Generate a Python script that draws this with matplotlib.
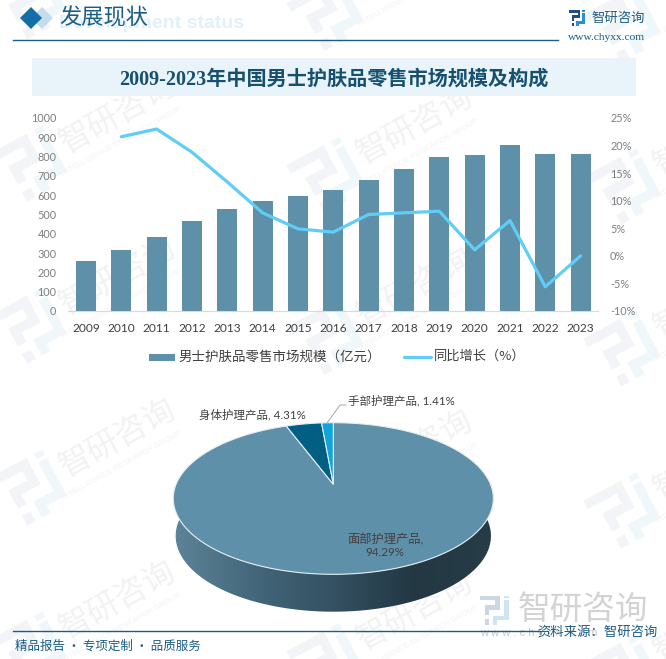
import numpy as np
import matplotlib
matplotlib.use('Agg')
import matplotlib.pyplot as plt
from matplotlib.colors import LinearSegmentedColormap
from matplotlib.patches import Polygon, Rectangle
from matplotlib.transforms import Affine2D

years = ['2009', '2010', '2011', '2012', '2013', '2014', '2015', '2016',
         '2017', '2018', '2019', '2020', '2021', '2022', '2023']
market = [257, 314, 386, 464, 526, 572, 598, 629, 678, 734, 797, 807, 859, 812, 812]
growth = [np.nan, 21.6, 23.0, 18.8, 13.4, 7.8, 4.9, 4.3, 7.5, 7.8, 8.1, 1.1, 6.4, -5.6, 0.0]
left_ticks = [0, 100, 200, 300, 400, 500, 600, 700, 800, 900, 1000]
right_ticks = [-10, -5, 0, 5, 10, 15, 20, 25]

pie_names = ['面部护理产品', '身体护理产品', '手部护理产品']
pie_values = [94.29, 4.31, 1.41]
pie_colors = ['#5e90a9', '#005f83', '#0ea5dc']

W, H = 666, 659
DARK = '#1b5d85'
CJK = ['Noto Sans CJK SC', 'DejaVu Sans']
plt.rcParams['font.family'] = CJK

fig = plt.figure(figsize=(W / 100, H / 100), dpi=100, facecolor='white')


def full_axes(z):
    a = fig.add_axes([0, 0, 1, 1], zorder=z)
    a.set_xlim(0, W)
    a.set_ylim(H, 0)
    a.axis('off')
    return a


bg = full_axes(0)
top = full_axes(2)


# company logo, two tone blocks on a 10x10 grid centred on x, y
def logo(a, x, y, s, col1, col2, rot=0, z=1):
    tr = Affine2D().translate(-5, -5).scale(s).rotate_deg(rot).translate(x, y) + a.transData
    blocks = [(0, 0, 7, 1.6), (5.4, 0, 1.6, 5), (1.8, 3.4, 3.6, 1.6), (1.8, 3.4, 1.6, 3.4), (1.8, 8.2, 1.6, 1.8)]
    blocks2 = [(8.4, 1.6, 1.6, 7), (4.6, 7, 3.8, 1.6), (4.6, 7, 1.6, 3), (8.4, 0, 1.6, 1)]
    for b in blocks:
        a.add_patch(Rectangle(b[:2], b[2], b[3], fc=col1, ec='none', transform=tr, zorder=z))
    for b in blocks2:
        a.add_patch(Rectangle(b[:2], b[2], b[3], fc=col2, ec='none', transform=tr, zorder=z))


# watermark repeats on a slanted grid
for j in range(0, 3):
    for k in range(-3, 2):
        lx = 30 + 297 * j
        ly = 490 + 11.5 * j + 162 * k
        logo(bg, lx, ly, 6, '#f2f4f8', '#f0f7fb', rot=-28)
        if ly - 24 > -20 and lx + 92 < W + 60:
            bg.text(lx + 92, ly - 24, 'INTELLIGENCE RESEARCH GROUP', fontsize=5.8, color='#f3f3f3',
                    family='Liberation Sans', rotation=29, ha='center', va='center', zorder=1)
        if ly - 52 > 0:
            bg.text(lx + 88, ly - 52, '智研咨询', fontsize=23, color='#f2f2f2', rotation=29,
                    ha='center', va='center', zorder=1)

# header
bg.text(244, 23, 'Development status', fontsize=14, fontweight='bold', color='#e3f0f8', ha='right', va='center',
        family='Liberation Sans', zorder=2)
bg.add_patch(Polygon([(42, 7), (53, 18), (42, 29), (31, 18)], fc='#c5dcec', ec='none', zorder=3))
bg.add_patch(Polygon([(31, 7), (42, 18), (31, 29), (20, 18)], fc='#136ea8', ec='none', zorder=3))
bg.text(59, 18, '发展现状', fontsize=16, color=DARK, va='center', ha='left', zorder=3)
bg.plot([13, 558], [39.5, 39.5], color=DARK, lw=1, zorder=3)
logo(bg, 577, 18, 1.6, '#1f4e86', '#2b8fd0', z=3)
bg.text(592, 18, '智研咨询', fontsize=9.6, color=DARK, va='center', ha='left', zorder=3)
bg.text(607, 37, 'www.chyxx.com', fontsize=8.2, color=DARK, va='center', ha='center', family='Liberation Serif', zorder=3)

# title band
bg.add_patch(Rectangle((32, 58), 604, 38, fc='#e8f3fa', ec='none', zorder=3))
bg.text(334, 80, '2009-2023年中国男士护肤品零售市场规模及构成', fontsize=14.5, fontweight='bold', color='#17506f',
        ha='center', va='center', family=['Liberation Serif', 'Noto Sans CJK SC'], zorder=4)

# combo chart
ax = fig.add_axes([68.3 / W, 1 - 311 / H, 530 / W, 193 / H], zorder=1)
ax.patch.set_alpha(0)
xs = np.arange(len(years))
ax.bar(xs, market, width=0.567, color='#5e90a9', zorder=2)
ax.set_xlim(-0.5, len(years) - 0.5)
ax.set_ylim(0, 1000)
ax.set_yticks(left_ticks)
ax.set_xticks(xs)
ax.set_xticklabels(years, family='Lato', fontsize=8.6, color='#404040')
ax.tick_params(axis='y', length=0, pad=8.5, labelsize=7.8, labelcolor='#7f7f7f', labelfontfamily='Lato')
ax.tick_params(axis='x', length=0, pad=9)
for s in ['top', 'left', 'right']:
    ax.spines[s].set_visible(False)
ax.spines['bottom'].set_color('#d9d9d9')

ax2 = ax.twinx()
ax2.patch.set_alpha(0)
ax2.plot(xs, growth, color='#5fcdf5', lw=2.3, solid_joinstyle='round', solid_capstyle='round')
ax2.set_ylim(-10, 25)
ax2.set_yticks(right_ticks)
ax2.set_yticklabels([f'{t}%' for t in right_ticks])
ax2.tick_params(axis='y', length=0, pad=8.5, labelsize=7.8, labelcolor='#7f7f7f', labelfontfamily='Lato')
for s in ax2.spines.values():
    s.set_visible(False)

# legend
top.add_patch(Rectangle((149, 353.5), 26, 7, fc='#5e90a9', ec='none'))
top.text(178, 356.5, '男士护肤品零售市场规模（亿元）', fontsize=9.7, color='#404040', va='center', ha='left')
top.plot([404, 431], [357, 357], color='#5fcdf5', lw=2.3, solid_capstyle='round')
top.text(434, 356.5, '同比增长（%）', fontsize=9.5, color='#404040', va='center', ha='left')

# 3D pie, tilted disc with perspective
CX, CY = 333.3, 484.3
PERSP, AY, KX = 0.1873, 73.14, 157.2
DEPTH = 37.4


def disc(t, kx=KX, dy=0.0):
    u, v = np.sin(t), np.cos(t)
    d = 1 + PERSP * v
    return CX + kx * u / d, CY - AY * v / d + dy


# side wall
t = np.radians(np.linspace(76, 284, 300))
xa, ya = disc(t)
xb, yb = disc(t[::-1], KX * 0.985, DEPTH)
wall = Polygon(np.column_stack([np.r_[xa, xb], np.r_[ya, yb]]), fc='none', ec='none', transform=top.transData)
top.add_patch(wall)
wall_cmap = LinearSegmentedColormap.from_list('wall', ['#5d8499', '#44677b', '#345162', '#233843', '#263c46'])
im = top.imshow(np.linspace(0, 1, 256).reshape(1, -1), cmap=wall_cmap, aspect='auto',
                extent=[173, 494, 620, 480], zorder=3)
im.set_clip_path(wall)
top.set_xlim(0, W)
top.set_ylim(H, 0)

# slices clockwise from 12 o'clock
edges = np.r_[0, np.cumsum(pie_values)] / sum(pie_values) * 2 * np.pi
for i, col in enumerate(pie_colors):
    t = np.linspace(edges[i], edges[i + 1], 400)
    px, py = disc(t)
    top.add_patch(Polygon(np.column_stack([np.r_[CX, px], np.r_[CY, py]]), fc=col, ec='#e6eef3', lw=0.8, zorder=4))

# pie labels
lab = dict(fontsize=8.3, color='#404040', zorder=5)
num = ['Lato', 'Noto Sans CJK SC']
top.plot([327, 340, 346], [423, 405, 405], color='#a6a6a6', lw=0.7, zorder=5)
top.text(348, 401, f'{pie_names[2]}, {pie_values[2]:.2f}%', va='center', ha='left', family=num, **lab)
top.text(199, 415, f'{pie_names[1]}, {pie_values[1]:.2f}%', va='center', ha='left', family=num, **lab)
top.text(385, 539, f'{pie_names[0]},', va='center', ha='center', family=num, fontsize=8.8, color='#404040', zorder=5)
top.text(385, 553, f'{pie_values[0]:.2f}%', va='center', ha='center', family=num, **lab)

# footer
logo(bg, 494, 610, 2.9, '#cdd6e6', '#cfe4f3', z=3)
bg.text(518, 610, '智研咨询', fontsize=23.5, color='#d3d3d3', va='center', ha='left', zorder=3)
bg.text(480, 633, 'w w w . c h y x x . c o m', fontsize=8, color='#c8c8c8', va='center', ha='left', family='Liberation Sans', zorder=3)
bg.plot([13, 540], [631, 631], color=DARK, lw=1, zorder=3)
top.text(658, 632, '资料来源：智研咨询', fontsize=9.6, color=DARK, va='center', ha='right', zorder=6)
top.text(15, 646, '精品报告 · 专项定制 · 品质服务', fontsize=9, color=DARK, va='center', ha='left', zorder=6)

fig.savefig('out.png', dpi=100)
plt.close(fig)
